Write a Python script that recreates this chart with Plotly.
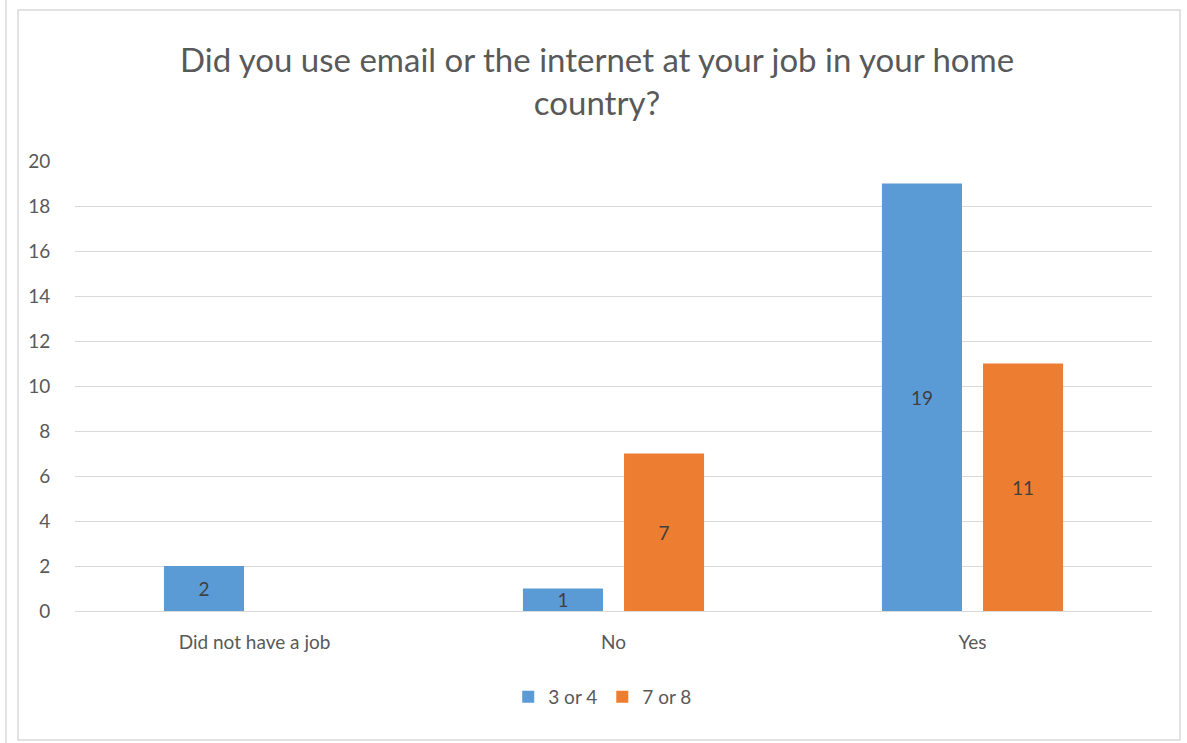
import plotly.graph_objects as go

categories = ["Did not have a job", "No", "Yes"]
series_names = ["3 or 4", "7 or 8"]
values_3or4 = [2, 1, 19]
values_7or8 = [None, 7, 11]
y_ticks = [0, 2, 4, 6, 8, 10, 12, 14, 16, 18, 20]

FONT = "Lato, Carlito, Calibri, sans-serif"
colors = ["#5B9BD5", "#ED7D31"]

fig = go.Figure()
for name, vals, col in zip(series_names, [values_3or4, values_7or8], colors):
    fig.add_trace(go.Bar(
        x=categories, y=vals, name=name,
        marker=dict(color=col, line=dict(width=0)),
        text=[("" if v is None else str(v)) for v in vals],
        textposition="inside", insidetextanchor="middle", textangle=0,
        textfont=dict(family=FONT, size=19, color="#404040"),
        hoverinfo="skip",
    ))

W, H = 1187, 743
L, R, T, B = 75, 35, 161, 132
pw, ph = W - L - R, H - T - B

def px(x):
    return (x - L) / pw

def py(y):
    return (H - B - y) / ph

fig.update_layout(
    width=W, height=H,
    margin=dict(l=L, r=R, t=T, b=B),
    paper_bgcolor="white", plot_bgcolor="white",
    barmode="group", bargap=0.437, bargroupgap=0.208,
    uniformtext=dict(mode="show", minsize=19),
    title=dict(
        text="Did you use email or the internet at your job in your home<br>country?",
        x=0.503, xanchor="center", y=1 - 72 / H, yanchor="middle",
        font=dict(family=FONT, size=33, color="#595959"),
    ),
    font=dict(family=FONT, color="#595959"),
    showlegend=True,
    legend=dict(
        orientation="h", x=0.49, xanchor="center", y=py(697), yanchor="middle",
        font=dict(family=FONT, size=19, color="#595959"),
        itemsizing="constant", itemwidth=30, traceorder="normal",
    ),
    xaxis=dict(
        showgrid=False, showline=False, zeroline=False,
        ticks="outside", ticklen=14, tickcolor="rgba(0,0,0,0)",
        tickfont=dict(family=FONT, size=19, color="#595959"),
    ),
    yaxis=dict(
        range=[0, 20], tickvals=y_ticks,
        showgrid=True, gridcolor="#D9D9D9", gridwidth=1,
        zeroline=True, zerolinecolor="#D9D9D9", zerolinewidth=1,
        showline=False,
        ticks="outside", ticklen=20, tickcolor="rgba(0,0,0,0)",
        tickfont=dict(family=FONT, size=19, color="#595959"),
    ),
    shapes=[
        dict(type="rect", xref="paper", yref="paper",
             x0=px(18), x1=px(1180), y0=py(740), y1=py(10),
             line=dict(color="#D9D9D9", width=1.5), layer="below"),
        dict(type="line", xref="paper", yref="paper",
             x0=px(6), x1=px(6), y0=py(743), y1=py(0),
             line=dict(color="#D9D9D9", width=1.5), layer="below"),
    ],
)

fig.write_html(
    "out.html",
    config={"displayModeBar": False},
    post_script="document.body.style.margin='0';document.body.style.overflow='hidden';",
)
